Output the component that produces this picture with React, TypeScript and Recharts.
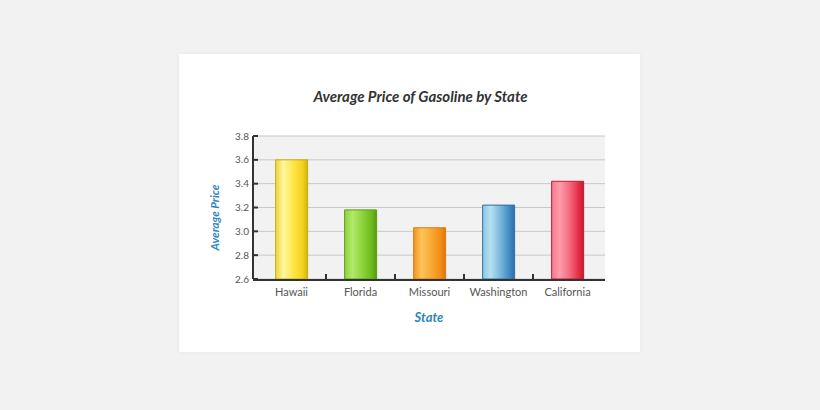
import React from "react";
import { BarChart, Bar, XAxis, YAxis, CartesianGrid, Cell, Label } from "recharts";

const states = ["Hawaii", "Florida", "Missouri", "Washington", "California"];
const prices = [3.6, 3.18, 3.03, 3.22, 3.42];
const yTicks = [2.6, 2.8, 3.0, 3.2, 3.4, 3.6, 3.8];
const boundaryTicks = [0.5, 1.5, 2.5, 3.5];
const gradStops = [
  ["#efd53a", "#fff6a0", "#fde64a", "#f3d21c", "#cdb20c"],
  ["#8fd23e", "#b2e86c", "#8ed43c", "#6cba1c", "#579a10"],
  ["#f3931e", "#fdc45a", "#f9a934", "#f28c1a", "#d8760e"],
  ["#8cc6e2", "#b6e0f2", "#7ab8dc", "#3f88c2", "#2e6ea6"],
  ["#f7788c", "#ff9cac", "#f56c82", "#e42c46", "#c81a32"],
];
const strokes = ["#c7ad10", "#5c9c14", "#d87a12", "#2f70a8", "#c21a32"];

const data = states.map((s, i) => ({ state: s, price: prices[i] }));

const EmptyTick = () => <g />;
const stateIndex = (d: { state: string }) => states.indexOf(d.state);

export default function App() {
  return (
    <div style={{ position: "fixed", left: 0, top: 0, width: 820, height: 410, background: "#f2f2f2" }}>
      <div
        style={{
          position: "absolute",
          left: 179,
          top: 54,
          width: 461,
          height: 298,
          background: "#ffffff",
          boxShadow: "0 0 5px rgba(0,0,0,0.05)",
        }}
      >
        <div
          style={{
            position: "absolute",
            left: 0,
            top: 32,
            width: 461,
            paddingLeft: 22,
            boxSizing: "border-box",
            textAlign: "center",
            fontFamily: "Lato",
            fontWeight: 700,
            fontStyle: "italic",
            fontSize: 15,
            lineHeight: "20px",
            color: "#333333",
          }}
        >
          Average Price of Gasoline by State
        </div>
        <BarChart
          width={461}
          height={298}
          data={data}
          margin={{ top: 82, right: 35, bottom: 28, left: 14 }}
          barCategoryGap="27%"
          style={{ position: "absolute", left: 0, top: 0 }}
        >
          <defs>
            {gradStops.map((st, i) => (
              <linearGradient key={i} id={`g${i}`} x1="0" y1="0" x2="1" y2="0">
                <stop offset="0%" stopColor={st[0]} />
                <stop offset="25%" stopColor={st[1]} />
                <stop offset="55%" stopColor={st[2]} />
                <stop offset="85%" stopColor={st[3]} />
                <stop offset="100%" stopColor={st[4]} />
              </linearGradient>
            ))}
          </defs>
          <CartesianGrid vertical={false} stroke="#c8c8c8" fill="#f2f2f2" xAxisId="b" />
          <XAxis
            xAxisId="b"
            dataKey="state"
            height={44}
            padding={{ left: 4, right: 3 }}
            axisLine={{ stroke: "#333", strokeWidth: 2 }}
            tickLine={false}
            tickMargin={2}
            tick={{ fill: "#555", fontSize: 11, fontFamily: "Lato" }}
            interval={0}
          >
            <Label
              value="State"
              position="insideBottom"
              offset={2}
              style={{ fill: "#2f84c2", fontStyle: "italic", fontWeight: 700, fontSize: 13, fontFamily: "Lato" }}
            />
          </XAxis>
          <XAxis
            xAxisId="a"
            type="number"
            dataKey={stateIndex}
            domain={[-0.5, 4.5]}
            allowDataOverflow
            ticks={boundaryTicks}
            tick={<EmptyTick />}
            tickSize={-5}
            tickLine={{ stroke: "#333", strokeWidth: 2 }}
            axisLine={false}
            height={1}
            padding={{ left: 4, right: 3 }}
          />
          <YAxis
            width={60}
            domain={[2.6, 3.8]}
            ticks={yTicks}
            allowDataOverflow
            tickFormatter={(v: number) => v.toFixed(1)}
            axisLine={{ stroke: "#333", strokeWidth: 2 }}
            tickLine={{ stroke: "#333", strokeWidth: 2 }}
            tickSize={-5}
            tickMargin={9}
            tick={{ fill: "#555", fontSize: 10, fontFamily: "Lato" }}
          >
            <Label
              value="Average Price"
              angle={-90}
              position="insideLeft"
              offset={22}
              dy={10}
              style={{ textAnchor: "middle", fill: "#2f84c2", fontStyle: "italic", fontWeight: 700, fontSize: 11.5, fontFamily: "Lato" }}
            />
          </YAxis>
          <Bar dataKey="price" xAxisId="b" isAnimationActive={false} strokeWidth={1}>
            {data.map((_, i) => (
              <Cell key={i} fill={`url(#g${i})`} stroke={strokes[i]} />
            ))}
          </Bar>
        </BarChart>
      </div>
    </div>
  );
}
